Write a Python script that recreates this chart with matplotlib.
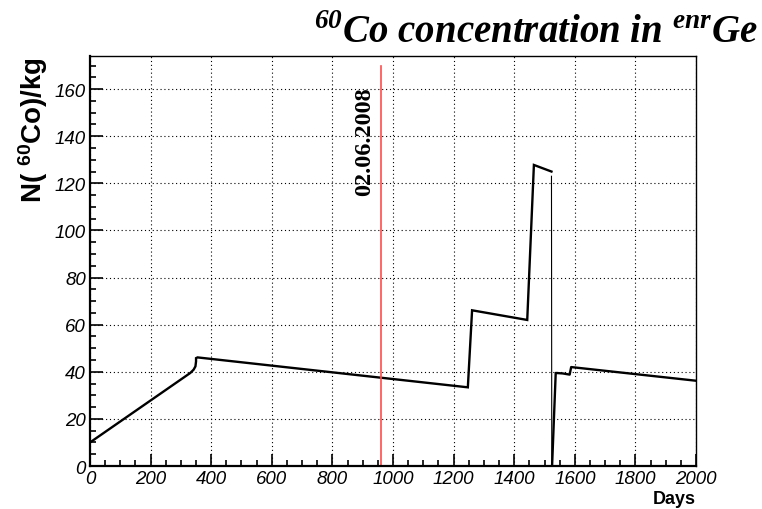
#!/usr/bin/env python3
'''
Co-60 activation in enriched germanium versus exposure time.
'''

import matplotlib
matplotlib.use("Agg")
import matplotlib.pyplot as plt
from matplotlib.ticker import MultipleLocator

# mathtext: sans bold for the axis title, serif bold italic via \mathbf for the main title
plt.rcParams['mathtext.fontset'] = 'custom'
plt.rcParams['mathtext.rm'] = 'Liberation Sans:bold'
plt.rcParams['mathtext.it'] = 'Liberation Sans:bold:italic'
plt.rcParams['mathtext.bf'] = 'Liberation Serif:bold:italic'

# exposure history, before the detectors go underground
DAYS_A = [0, 331, 342, 348, 350, 350, 355, 1247, 1261, 1443, 1465, 1523]
N60CO_A = [10.0, 39.5, 40.9, 42.3, 44.4, 45.8, 46.1, 33.4, 66.1, 62.0, 127.8, 125.0]

# after reprocessing
DAYS_B = [1525, 1537, 1560, 1583, 1588, 2000]
N60CO_B = [0.0, 39.5, 39.3, 38.8, 42.0, 36.2]

MARK_DAY = 959
MARK_LABEL = "02.06.2008"
MARK_TOP = 170

XMAX = 2000
YMAX = 174

TICK_FONT = dict(family='Liberation Sans', style='italic', size=13.5)


def drawConcentration():
    fig = plt.figure(figsize=(7.62, 5.1), dpi=100)
    ax = fig.add_axes([0.1181, 0.0843, 0.7953, 0.8037])

    ax.plot(DAYS_A, N60CO_A, color='black', lw=1.7, solid_joinstyle='miter')
    # the drop at reprocessing is drawn as a thin line
    ax.plot([DAYS_A[-1], DAYS_B[0] - 1], [N60CO_A[-1] - 2, 0], color='black', lw=0.8)
    ax.plot(DAYS_B, N60CO_B, color='black', lw=1.7)

    ax.plot([MARK_DAY, MARK_DAY], [0, MARK_TOP], color='#ff4c4c', lw=1.2)
    ax.text(MARK_DAY - 52, 115, MARK_LABEL, rotation=90, ha='center', va='bottom',
            family='Liberation Serif', weight='bold', size=17.5)

    ax.set_xlim(0, XMAX)
    ax.set_ylim(0, YMAX)
    ax.xaxis.set_major_locator(MultipleLocator(200))
    ax.xaxis.set_minor_locator(MultipleLocator(50))
    ax.yaxis.set_major_locator(MultipleLocator(20))
    ax.yaxis.set_minor_locator(MultipleLocator(5))
    ax.tick_params(which='major', direction='in', length=9, width=1.2,
                   top=False, right=False, pad=3)
    ax.tick_params(which='minor', direction='in', length=4.5, width=1.2,
                   top=False, right=False)
    for lab in ax.get_xticklabels() + ax.get_yticklabels():
        lab.set_fontproperties(TICK_FONT)
    ax.grid(True, which='major', color='black', lw=0.8, linestyle=(0, (1, 2.5)))

    ax.spines['left'].set_linewidth(1.6)
    ax.spines['bottom'].set_linewidth(1.6)
    ax.spines['top'].set_linewidth(1.0)
    ax.spines['right'].set_linewidth(1.0)

    ax.set_xlabel('Days', family='Liberation Sans', weight='bold', size=13,
                  ha='right', va='top')
    ax.xaxis.set_label_coords(1.0, -0.058)
    ax.set_ylabel(r'N( $^{60}$Co)/kg', family='Liberation Sans', weight='bold',
                  size=20, ha='right')
    ax.yaxis.set_label_coords(-0.066, 1.0)

    fig.text(0.995, 1 - 43 / 510, r'$^{\mathbf{60}}$Co concentration in $^{\mathbf{enr}}$Ge',
             ha='right', va='baseline', family='Liberation Serif', weight='bold',
             style='italic', size=28)

    fig.savefig('out.png', dpi=100)


if __name__ == '__main__':
    drawConcentration()
